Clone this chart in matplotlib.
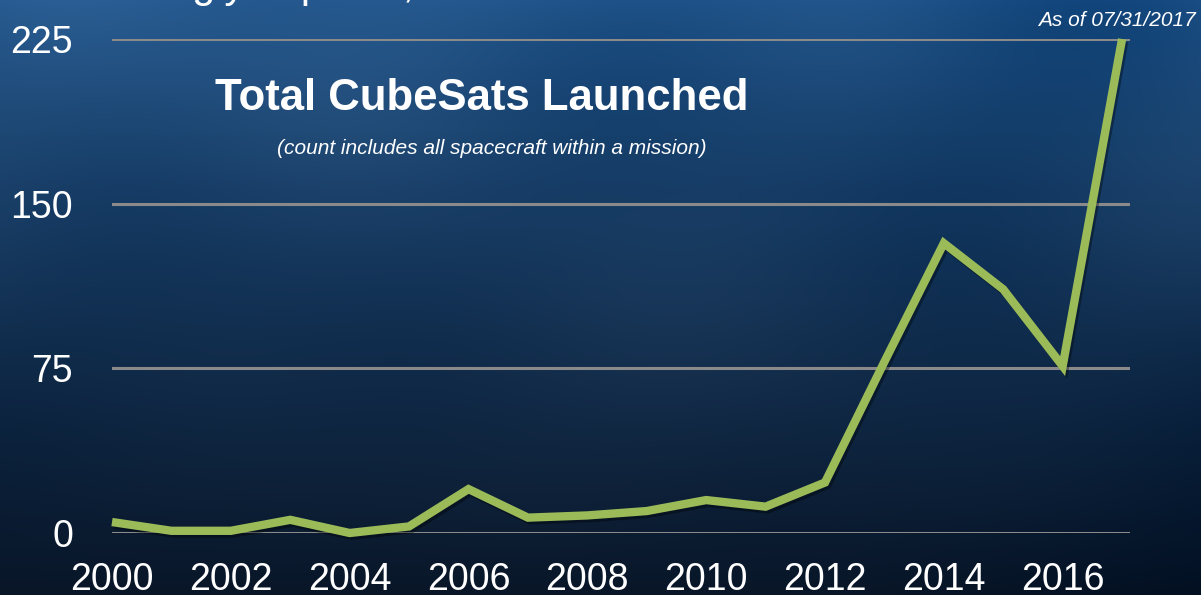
"""
Total CubeSats launched per year, drawn over a dark blue space backdrop.
"""

import numpy as np
import matplotlib.pyplot as plt
from matplotlib import patheffects as pe

years = [2000, 2001, 2002, 2003, 2004, 2005, 2006, 2007, 2008,
         2009, 2010, 2011, 2012, 2013, 2014, 2015, 2016, 2017]
launched = [5, 1, 1, 6, 0, 3, 20, 7, 8,
            10, 15, 12, 23, 78, 132, 111, 76, 225]

y_ticks = [0, 75, 150, 225]
x_ticks = [2000, 2002, 2004, 2006, 2008, 2010, 2012, 2014, 2016]

TITLE = 'Total CubeSats Launched'
SUBTITLE = '(count includes all spacecraft within a mission)'
STAMP = 'As of 07/31/2017'
HEADER = 'creasingly capable, for lower mission costs'

plt.rcParams['font.family'] = ['Liberation Sans', 'DejaVu Sans']

W, H = 1201, 595
fig = plt.figure(figsize=(W / 100, H / 100), dpi=100)


def backdrop():
    """Soft cloudy blue gradient, lighter at the top, deep navy at the bottom."""
    yy, xx = np.mgrid[0:1:300j, 0:1:600j]
    top = np.array([32, 84, 138]) / 255
    bot = np.array([9, 22, 40]) / 255
    t = np.clip(yy ** 0.9, 0, 1)
    # smooth cloud bands
    clouds = (0.5 * np.sin(6.0 * xx + 2.0 * yy) * np.sin(4.0 * yy + 1.3)
              + 0.35 * np.sin(11.0 * xx - 3.0 * yy + 0.7) * np.cos(7.0 * yy)
              + 0.25 * np.cos(17.0 * xx + 5.0 * yy))
    clouds *= (1 - t) * 0.06
    darken_right = 0.08 * np.clip(xx - 0.7, 0, 1) * t
    img = (1 - t)[..., None] * top + t[..., None] * bot
    img = img + clouds[..., None] - darken_right[..., None]
    return np.clip(img, 0, 1)


bg = fig.add_axes([0, 0, 1, 1])
bg.imshow(backdrop(), aspect='auto', extent=[0, 1, 0, 1], interpolation='bicubic')
bg.set_axis_off()

# plot area in pixel terms: x 112..1130, y 39..533 from the top
left, right, top, bottom = 112, 1130, 39, 533
ax = fig.add_axes([left / W, 1 - bottom / H, (right - left) / W, (bottom - top) / H])
ax.patch.set_alpha(0)
ax.set_xlim(2000, 2017 + 8 / 60)
ax.set_ylim(0, 225)

for v in y_ticks:
    ax.axhline(v, color='#8a8a8a', lw=2.2, zorder=1)

ax.plot(years, launched, color='#9bbb59', lw=6, solid_joinstyle='miter',
        solid_capstyle='butt', clip_on=False, zorder=3,
        path_effects=[pe.SimpleLineShadow(offset=(1.5, -2), shadow_color='black', alpha=0.35),
                      pe.Normal()])

ax.set_yticks(y_ticks)
ax.set_xticks(x_ticks)
ax.tick_params(length=0, colors='white', labelsize=27)
ax.tick_params(axis='y', pad=28)
ax.tick_params(axis='x', pad=21)
for s in ax.spines.values():
    s.set_visible(False)

fig.text(482 / W, 1 - 99 / H, TITLE, color='white', fontsize=31.5, fontweight='bold',
         ha='center', va='center')
fig.text(492 / W, 1 - 148 / H, SUBTITLE, color='white', fontsize=15, style='italic',
         ha='center', va='center')
fig.text(1196 / W, 1 - 20 / H, STAMP, color='white', fontsize=15, style='italic',
         ha='right', va='center')
# slide heading above the chart, mostly cut off by the top edge
fig.text(58 / W, 1 + 3 / H, HEADER, color='white', fontsize=30,
         ha='left', va='baseline')

fig.savefig('out.png', dpi=100)
